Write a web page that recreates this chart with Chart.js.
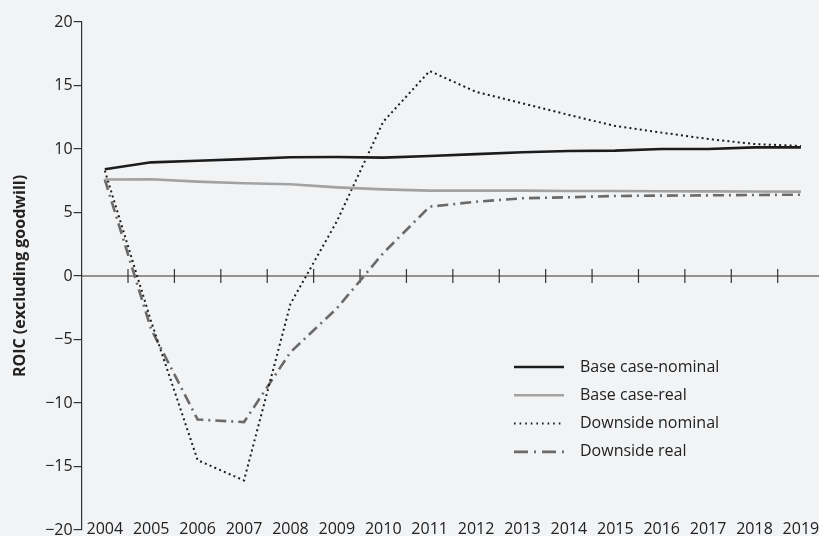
<!DOCTYPE html>
<html>
<head>
<meta charset="utf-8">
<script src="https://cdn.jsdelivr.net/npm/chart.js@4.4.1/dist/chart.umd.min.js"></script>
<style>
    html, body { margin: 0; padding: 0; background: #f2f3f5; }
    #roic-chart { display: block; }
</style>
</head>
<body>
<canvas id="roic-chart" width="819" height="536"></canvas>
<script>
// data
var years = [2004, 2005, 2006, 2007, 2008, 2009, 2010, 2011, 2012, 2013, 2014, 2015, 2016, 2017, 2018, 2019];
var baseNominal = [8.4, 8.95, 9.08, 9.2, 9.35, 9.37, 9.32, 9.45, 9.6, 9.74, 9.84, 9.87, 10.0, 10.0, 10.13, 10.13];
var baseReal = [7.6, 7.62, 7.43, 7.3, 7.22, 6.98, 6.82, 6.72, 6.72, 6.72, 6.69, 6.69, 6.67, 6.66, 6.65, 6.64];
var downNominal = [8.3, -3.6, -14.5, -16.1, -2.2, 4.3, 12.15, 16.14, 14.5, 13.6, 12.68, 11.81, 11.29, 10.79, 10.39, 10.24];
var downReal = [7.6, -4.2, -11.3, -11.5, -6.0, -2.55, 1.8, 5.46, 5.85, 6.12, 6.2, 6.3, 6.33, 6.35, 6.38, 6.4];
var yTicks = [-20, -15, -10, -5, 0, 5, 10, 15, 20];

var seriesNames = ["Base case-nominal", "Base case-real", "Downside nominal", "Downside real"];

var FONT = "'Open Sans', 'Noto Sans', sans-serif";
var INK = "#222222";
var AXIS = "#333333";

// horizontal axis at y = 0 with tick marks between the years
var zeroAxis = {
    id: "zeroAxis",
    beforeDatasetsDraw: function (chart) {
        var ctx = chart.ctx;
        var x = chart.scales.x;
        var y0 = chart.scales.y.getPixelForValue(0);
        ctx.save();
        ctx.strokeStyle = AXIS;
        ctx.lineWidth = 1.2;
        ctx.beginPath();
        ctx.moveTo(chart.chartArea.left, y0);
        ctx.lineTo(chart.chartArea.right, y0);
        for (var i = 0; i < years.length - 1; i++) {
            var px = x.getPixelForValue(years[i] + 0.5);
            ctx.moveTo(px, y0 - 7);
            ctx.lineTo(px, y0 + 7);
        }
        ctx.stroke();
        ctx.restore();
    },
    // year labels sit level with the -20 tick, at the foot of the plot
    afterDraw: function (chart) {
        var ctx = chart.ctx;
        var x = chart.scales.x;
        var yBottom = chart.scales.y.getPixelForValue(-20) - 1;
        ctx.save();
        ctx.fillStyle = INK;
        ctx.font = "16px " + FONT;
        ctx.textAlign = "center";
        ctx.textBaseline = "middle";
        years.forEach(function (yr) {
            ctx.fillText(String(yr), x.getPixelForValue(yr), yBottom);
        });
        ctx.restore();
    }
};

// legend sitting inside the plot, lower right
var lineLegend = {
    id: "lineLegend",
    afterDraw: function (chart) {
        var ctx = chart.ctx;
        var left = 514, lineLen = 50, textX = 580, top = 367, step = 28.3;
        ctx.save();
        chart.data.datasets.forEach(function (ds, i) {
            var yy = top + i * step;
            ctx.strokeStyle = ds.borderColor;
            ctx.lineWidth = ds.borderWidth;
            ctx.setLineDash(ds.legendDash || ds.borderDash || []);
            ctx.beginPath();
            ctx.moveTo(left, yy);
            ctx.lineTo(left + lineLen, yy);
            ctx.stroke();
            ctx.setLineDash([]);
            ctx.fillStyle = INK;
            ctx.font = "16px " + FONT;
            ctx.textBaseline = "middle";
            ctx.textAlign = "left";
            ctx.fillText(ds.label, textX, yy);
        });
        ctx.restore();
    }
};

new Chart(document.getElementById("roic-chart"), {
    type: "line",
    data: {
        labels: years,
        datasets: [
            {
                label: seriesNames[0],
                data: baseNominal,
                borderColor: "#1c1c1c",
                borderWidth: 2.6
            },
            {
                label: seriesNames[1],
                data: baseReal,
                borderColor: "#a2a2a2",
                borderWidth: 2.6
            },
            {
                label: seriesNames[2],
                data: downNominal,
                borderColor: "#1c1c1c",
                borderWidth: 2,
                borderDash: [2, 3.2],
                legendDash: [1.6, 4]
            },
            {
                label: seriesNames[3],
                data: downReal,
                borderColor: "#6a6a6a",
                borderWidth: 2.6,
                borderDash: [11, 5, 2, 5],
                legendDash: [14, 6, 2, 6]
            }
        ]
    },
    options: {
        responsive: false,
        animation: false,
        elements: {
            point: { radius: 0, hoverRadius: 0 },
            line: { tension: 0, fill: false, borderCapStyle: "butt" }
        },
        layout: { padding: { top: 22, left: 0, right: 0, bottom: 6 } },
        plugins: {
            legend: { display: false },
            tooltip: { enabled: false }
        },
        scales: {
            x: {
                type: "linear",
                min: 2003.5,
                max: 2019.39,
                afterBuildTicks: function (scale) {
                    scale.ticks = years.map(function (v) { return { value: v }; });
                },
                grid: { display: false, drawTicks: false },
                border: { display: false },
                ticks: { display: false }
            },
            y: {
                min: -20,
                max: 20,
                afterBuildTicks: function (scale) {
                    scale.ticks = yTicks.map(function (v) { return { value: v }; });
                },
                afterFit: function (scale) {
                    scale.width = 81.6;
                    scale.paddingTop = 0;
                    scale.paddingBottom = 0;
                },
                grid: {
                    drawOnChartArea: false,
                    drawTicks: true,
                    tickLength: 8,
                    color: AXIS,
                    lineWidth: 1.2
                },
                border: { display: true, color: AXIS, width: 1.2 },
                ticks: {
                    padding: 1,
                    color: INK,
                    font: { family: FONT, size: 16 },
                    callback: function (v) { return v < 0 ? "\u2212" + Math.abs(v) : String(v); }
                },
                title: {
                    display: true,
                    text: "ROIC (excluding goodwill)",
                    color: INK,
                    font: { family: FONT, size: 16, weight: "bold" },
                    padding: { top: 11, bottom: 0 }
                }
            }
        }
    },
    plugins: [zeroAxis, lineLegend]
});
</script>
</body>
</html>
